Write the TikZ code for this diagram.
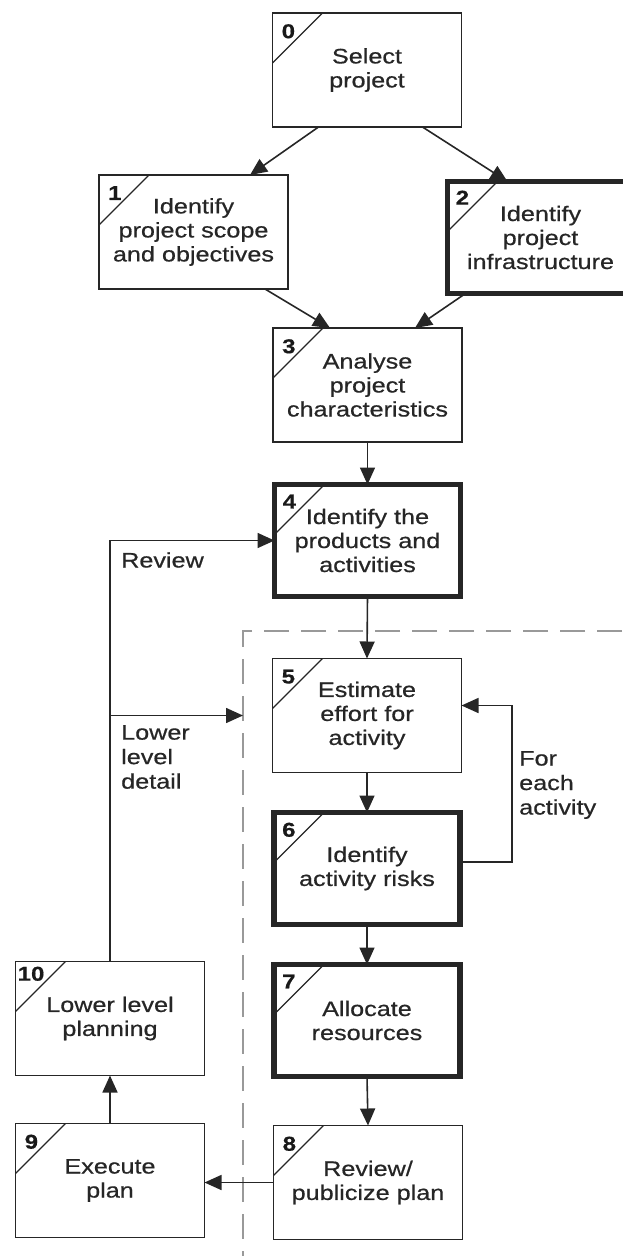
\documentclass[tikz,border=0pt]{standalone}
\usepackage{fontspec}
\setmainfont[FakeStretch=1.2, FakeBold=0.6]{Liberation Sans}
\usetikzlibrary{arrows.meta}
\begin{document}
\begin{tikzpicture}[
    x=1pt, y=-1pt,
    box/.style={rectangle, draw=black!85, line width=1.8pt, outer sep=0pt, align=center,
                minimum width=189pt, minimum height=114pt, inner sep=2pt,
                font=\fontsize{21}{24}\selectfont, text=black!85},
    keybox/.style={box, line width=5.5pt, minimum width=186pt, minimum height=112pt},
    tag/.style={anchor=north west, inner sep=0pt, text=black!90,
                font=\fontsize{20}{20}\selectfont\bfseries},
    lbl/.style={anchor=west, align=left, inner sep=0pt, text=black!85,
                font=\fontsize{21}{24.5}\selectfont},
    >={Triangle[length=17pt,width=15pt]},
    flow/.style={->, line width=1.6pt, draw=black!85},
    frame/.style={dash pattern=on 25pt off 12pt, line width=2.2pt, draw=black!40}
  ]
  \useasboundingbox (0,0) rectangle (622,1256);
  % Dashed frame round the activity steps
  \coordinate (dtl) at (243,631);
  \draw[frame] (622,631) -- (dtl) -- (243,1256);
  % Steps
  \node[box]    (b0)  at (367,70)       {Select\\project};
  \node[box]    (b1)  at (193.5,232)    {Identify\\project scope\\and objectives};
  \node[keybox] (b2)  at (540.5,237.5)  {Identify\\project\\infrastructure};
  \node[box]    (b3)  at (367.5,385)    {Analyse\\project\\characteristics};
  \node[keybox] (b4)  at (367.5,540.5)  {Identify the\\products and\\activities};
  \node[box]    (b5)  at (367,715.5)    {Estimate\\effort for\\activity};
  \node[keybox] (b6)  at (367,868.5)    {Identify\\activity risks};
  \node[keybox] (b7)  at (367,1020.5)   {Allocate\\resources};
  \node[box]    (b8)  at (368,1182.5)   {Review/\\publicize plan};
  \node[box]    (b9)  at (110,1180.5)   {Execute\\plan};
  \node[box]    (b10) at (110,1018.5)   {Lower level\\planning};
  % Step numbers in the corners
  \foreach \n/\dx/\dy in {0/9/11,1/9/11,2/8/9,3/9/11,4/8/10,5/9/11,6/8/10,7/8/10,8/9/11,9/9/11,10/2/5}{
    \draw[line width=1.3pt, black!85] (b\n.north west) ++(50,0) -- ++(-50,50);
    \node[tag] (t\n) at ([xshift=\dx pt, yshift=-\dy pt]b\n.north west) {\n};
  }
  % Flow between steps
  \draw[flow] ([xshift=46pt]b0.south west) -- ([xshift=-38pt]b1.north east);
  \draw[flow] ([xshift=-39pt]b0.south east) -- ([xshift=60pt]b2.north west);
  \draw[flow] ([xshift=-23pt]b1.south east) -- ([xshift=57pt]b3.north west);
  \draw[flow] ([xshift=18pt]b2.south west) -- ([xshift=-47pt]b3.north east);
  \draw[flow] (b3.south) -- (b4.north);
  \draw[flow] (b4.south) -- (b5.north);
  \draw[flow] (b5.south) -- (b6.north);
  \draw[flow] (b6.south) -- (b7.north);
  \draw[flow] (b7.south) -- (b8.north);
  \draw[flow] (b8.west) -- (b8.west -| b9.east);
  \draw[flow] (b9.north) -- (b10.south);
  % Review and lower level detail
  \draw[flow] (b10.north) |- (b4.west);
  \draw[flow] (b10.north |- b5.west) -- (dtl |- b5.west);
  % For each activity
  \draw[flow] ([yshift=6.5pt]b6.east) -- ++(52,0) |- ([yshift=10pt]b5.east);
  % Labels
  \node[lbl] (rev) at (121,560) {Review};
  \node[lbl] (lld) at (121,757) {Lower\\level\\detail};
  \node[lbl] (fea) at (519,785) {For\\each\\activity};
\end{tikzpicture}
\end{document}
